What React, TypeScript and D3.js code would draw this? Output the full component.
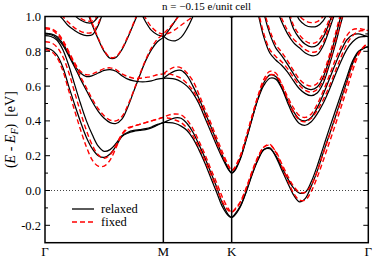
import React from "react";
import * as d3 from "d3";

const W = 374;
const H = 258;
const plot = { left: 45, right: 368.3, top: 16.5, bottom: 242.7 };

// high-symmetry points, path length in units of |ΓM|
const symLabels = ["Γ", "M", "K", "Γ"];
const symK = [0, 1, 1.5774, 2.7321];

const yMajor = [-0.2, 0, 0.2, 0.4, 0.6, 0.8, 1.0];
const yMinor = [-0.1, 0.1, 0.3, 0.5, 0.7, 0.9];

// relaxed structure, [k, E - E_F]
const relaxed1 = [[0,0.82],[0.05,0.81],[0.1,0.78],[0.15,0.71],[0.2,0.6],[0.25,0.495],[0.3,0.395],[0.35,0.305],[0.4,0.24],[0.45,0.2],[0.5,0.19],[0.55,0.21],[0.6,0.255],[0.65,0.31],[0.7,0.33],[0.75,0.34],[0.8,0.345],[0.85,0.35],[0.9,0.36],[0.95,0.375],[1,0.39],
  [1.05,0.39],[1.1,0.385],[1.15,0.37],[1.2,0.345],[1.25,0.3],[1.3,0.235],[1.35,0.16],[1.4,0.075],[1.45,-0.01],[1.5,-0.095],[1.55,-0.145],[1.577,-0.155],
  [1.6,-0.145],[1.65,-0.095],[1.7,-0.01],[1.75,0.09],[1.8,0.175],[1.85,0.235],[1.9,0.245],[1.95,0.195],[2,0.12],[2.05,0.045],[2.1,-0.025],[2.15,-0.065],[2.2,-0.045],[2.25,0.025],[2.3,0.11],[2.35,0.215],[2.4,0.315],[2.45,0.415],[2.5,0.52],[2.55,0.625],[2.6,0.73],[2.65,0.795],[2.7,0.82],[2.732,0.825]];
const relaxed2 = [[0,0.89],[0.05,0.885],[0.1,0.865],[0.15,0.81],[0.2,0.72],[0.25,0.61],[0.3,0.5],[0.35,0.4],[0.4,0.32],[0.45,0.255],[0.5,0.225],[0.55,0.235],[0.6,0.27],[0.65,0.315],[0.7,0.335],[0.75,0.345],[0.8,0.35],[0.85,0.355],[0.9,0.365],[0.95,0.38],[1,0.39],
  [1.05,0.405],[1.1,0.418],[1.15,0.415],[1.2,0.385],[1.25,0.335],[1.3,0.265],[1.35,0.19],[1.4,0.105],[1.45,0.02],[1.5,-0.075],[1.55,-0.14],[1.577,-0.155],
  [1.6,-0.14],[1.65,-0.09],[1.7,-0.005],[1.75,0.095],[1.8,0.18],[1.85,0.235],[1.9,0.24],[1.95,0.2],[2,0.135],[2.05,0.07],[2.1,0.015],[2.15,-0.015],[2.2,-0.01],[2.25,0.05],[2.3,0.14],[2.35,0.245],[2.4,0.35],[2.45,0.45],[2.5,0.55],[2.55,0.65],[2.6,0.745],[2.65,0.8],[2.7,0.82],[2.732,0.825]];
const relaxed3 = [[0,0.905],[0.05,0.9],[0.1,0.885],[0.15,0.845],[0.2,0.785],[0.25,0.72],[0.3,0.675],[0.35,0.655],[0.4,0.66],[0.45,0.675],[0.5,0.69],[0.55,0.695],[0.6,0.685],[0.65,0.66],[0.7,0.64],[0.75,0.63],[0.8,0.625],[0.85,0.625],[0.9,0.63],[0.95,0.64],[1,0.645],
  [1.05,0.645],[1.1,0.64],[1.15,0.625],[1.2,0.6],[1.25,0.56],[1.3,0.5],[1.35,0.42],[1.4,0.34],[1.45,0.26],[1.5,0.185],[1.55,0.12],[1.577,0.1],
  [1.6,0.115],[1.65,0.185],[1.7,0.295],[1.75,0.415],[1.8,0.525],[1.85,0.605],[1.9,0.645],[1.95,0.64],[2,0.59],[2.05,0.52],[2.1,0.455],[2.15,0.41],[2.2,0.4],[2.25,0.42],[2.3,0.475],[2.35,0.55],[2.4,0.635],[2.45,0.72],[2.5,0.8],[2.55,0.865],[2.6,0.895],[2.65,0.9],[2.7,0.89],[2.732,0.885]];
const relaxed4 = [[1,0.645],[1.05,0.67],[1.1,0.688],[1.15,0.69],[1.2,0.66],[1.25,0.6],[1.3,0.53],[1.35,0.45],[1.4,0.37],[1.45,0.285],[1.5,0.2],[1.55,0.125],[1.577,0.1],
  [1.6,0.11],[1.65,0.18],[1.7,0.29],[1.75,0.41],[1.8,0.53],[1.85,0.62],[1.9,0.665],[1.95,0.655],[2,0.59],[2.05,0.505],[2.1,0.43],[2.15,0.385],[2.2,0.375],[2.25,0.395],[2.3,0.44],[2.35,0.5],[2.4,0.575],[2.45,0.66],[2.5,0.74],[2.55,0.81],[2.6,0.855],[2.65,0.88],[2.7,0.885],[2.732,0.885]];
const relaxed5 = [[0,0.9],[0.05,0.895],[0.1,0.875],[0.15,0.835],[0.2,0.775],[0.25,0.71],[0.3,0.64],[0.35,0.575],[0.4,0.51],[0.45,0.455],[0.5,0.415],[0.55,0.39],[0.6,0.385],[0.65,0.41],[0.7,0.48],[0.75,0.57],[0.8,0.66],[0.85,0.745],[0.9,0.81],[0.95,0.855],[1,0.88],[1.05,0.925],[1.1,0.975],[1.15,1.03],[1.2,1.09]];
const relaxed6 = [[0.35,1.04],[0.4,0.95],[0.45,0.87],[0.5,0.8],[0.55,0.76],[0.6,0.765],[0.65,0.81],[0.7,0.88],[0.75,0.96],[0.8,1.04]];
const relaxed7 = [[0.05,1.06],[0.1,1.02],[0.15,0.985],[0.2,0.945],[0.25,0.92],[0.3,0.9],[0.35,0.89],[0.4,0.895],[0.45,0.95],[0.5,1.05]];
const relaxed8 = [[0.2,1.04],[0.25,1.005],[0.3,0.98],[0.35,0.965],[0.4,0.965],[0.45,1.0],[0.5,1.06]];
const relaxed9 = [[0.8,1.04],[0.85,0.97],[0.9,0.92],[0.95,0.895],[1,0.885],[1.05,0.865],[1.1,0.86],[1.15,0.88],[1.2,0.93],[1.25,1.0],[1.3,1.07]];
const relaxed10 = [[1.5,1.06],[1.577,0.995],[1.65,1.06]];
const relaxed11 = [[1.75,1.2],[1.8,1.02],[1.85,0.88],[1.9,0.79],[1.95,0.75],[2,0.72],[2.05,0.68],[2.1,0.63],[2.15,0.585],[2.2,0.557],[2.25,0.545],[2.3,0.56],[2.35,0.615],[2.4,0.715],[2.45,0.83],[2.5,0.96],[2.55,1.08]];
const relaxed12 = [[1.8,1.2],[1.85,1.02],[1.9,0.9],[1.95,0.82],[2,0.775],[2.05,0.725],[2.1,0.67],[2.15,0.62],[2.2,0.59],[2.25,0.58],[2.3,0.595],[2.35,0.65],[2.4,0.75],[2.45,0.87],[2.5,1.0],[2.55,1.1]];
const relaxed13 = [[1.95,1.06],[2,0.97],[2.05,0.9],[2.1,0.85],[2.15,0.82],[2.2,0.79],[2.25,0.775],[2.3,0.78],[2.35,0.83],[2.4,0.92],[2.45,1.02],[2.5,1.12]];
const relaxed14 = [[2.05,1.04],[2.1,0.93],[2.15,0.875],[2.2,0.84],[2.25,0.825],[2.3,0.835],[2.35,0.88],[2.4,0.96],[2.45,1.06]];
const relaxed15 = [[2.1,1.06],[2.15,0.98],[2.2,0.95],[2.25,0.94],[2.3,0.945],[2.35,0.975],[2.4,1.04]];

// fixed structure
const fixed1 = [[0,0.81],[0.05,0.8],[0.1,0.765],[0.15,0.69],[0.2,0.575],[0.25,0.46],[0.3,0.35],[0.35,0.25],[0.4,0.175],[0.45,0.14],[0.5,0.14],[0.55,0.175],[0.6,0.245],[0.65,0.32],[0.7,0.355],[0.75,0.37],[0.8,0.38],[0.85,0.39],[0.9,0.4],[0.95,0.41],[1,0.42],
  [1.05,0.415],[1.1,0.405],[1.15,0.39],[1.2,0.36],[1.25,0.315],[1.3,0.25],[1.35,0.175],[1.4,0.095],[1.45,0.015],[1.5,-0.065],[1.55,-0.115],[1.577,-0.125],
  [1.6,-0.115],[1.65,-0.07],[1.7,0.01],[1.75,0.105],[1.8,0.19],[1.85,0.25],[1.9,0.265],[1.95,0.22],[2,0.14],[2.05,0.06],[2.1,-0.015],[2.15,-0.055],[2.2,-0.055],[2.25,-0.005],[2.3,0.075],[2.35,0.17],[2.4,0.27],[2.45,0.37],[2.5,0.475],[2.55,0.58],[2.6,0.69],[2.65,0.78],[2.7,0.83],[2.732,0.845]];
const fixed2 = [[0,0.855],[0.05,0.85],[0.1,0.825],[0.15,0.77],[0.2,0.68],[0.25,0.565],[0.3,0.45],[0.35,0.345],[0.4,0.26],[0.45,0.205],[0.5,0.185],[0.55,0.205],[0.6,0.26],[0.65,0.325],[0.7,0.36],[0.75,0.37],[0.8,0.38],[0.85,0.39],[0.9,0.4],[0.95,0.41],[1,0.42],
  [1.05,0.435],[1.1,0.44],[1.15,0.435],[1.2,0.405],[1.25,0.355],[1.3,0.285],[1.35,0.21],[1.4,0.125],[1.45,0.045],[1.5,-0.04],[1.55,-0.105],[1.577,-0.125],
  [1.6,-0.11],[1.65,-0.065],[1.7,0.015],[1.75,0.11],[1.8,0.195],[1.85,0.25],[1.9,0.26],[1.95,0.225],[2,0.155],[2.05,0.085],[2.1,0.025],[2.15,-0.01],[2.2,-0.01],[2.25,0.03],[2.3,0.11],[2.35,0.21],[2.4,0.31],[2.45,0.41],[2.5,0.51],[2.55,0.615],[2.6,0.72],[2.65,0.79],[2.7,0.83],[2.732,0.845]];
const fixed3 = [[0,0.935],[0.05,0.93],[0.1,0.91],[0.15,0.865],[0.2,0.8],[0.25,0.735],[0.3,0.685],[0.35,0.665],[0.4,0.67],[0.45,0.685],[0.5,0.7],[0.55,0.705],[0.6,0.695],[0.65,0.67],[0.7,0.655],[0.75,0.645],[0.8,0.645],[0.85,0.65],[0.9,0.655],[0.95,0.665],[1,0.67],
  [1.05,0.67],[1.1,0.66],[1.15,0.645],[1.2,0.615],[1.25,0.575],[1.3,0.515],[1.35,0.435],[1.4,0.355],[1.45,0.275],[1.5,0.2],[1.55,0.14],[1.577,0.115],
  [1.6,0.13],[1.65,0.2],[1.7,0.31],[1.75,0.43],[1.8,0.54],[1.85,0.625],[1.9,0.665],[1.95,0.66],[2,0.61],[2.05,0.54],[2.1,0.475],[2.15,0.43],[2.2,0.42],[2.25,0.44],[2.3,0.495],[2.35,0.57],[2.4,0.655],[2.45,0.745],[2.5,0.825],[2.55,0.89],[2.6,0.925],[2.65,0.93],[2.7,0.925],[2.732,0.92]];
const fixed4 = [[1,0.67],[1.05,0.695],[1.1,0.71],[1.15,0.705],[1.2,0.675],[1.25,0.63],[1.3,0.555],[1.35,0.47],[1.4,0.39],[1.45,0.305],[1.5,0.22],[1.55,0.145],[1.577,0.115],
  [1.6,0.125],[1.65,0.195],[1.7,0.305],[1.75,0.425],[1.8,0.545],[1.85,0.64],[1.9,0.685],[1.95,0.675],[2,0.61],[2.05,0.525],[2.1,0.45],[2.15,0.405],[2.2,0.395],[2.25,0.415],[2.3,0.46],[2.35,0.52],[2.4,0.595],[2.45,0.68],[2.5,0.765],[2.55,0.84],[2.6,0.89],[2.65,0.915],[2.7,0.92],[2.732,0.92]];
const fixed5 = [[0,0.93],[0.05,0.925],[0.1,0.9],[0.15,0.855],[0.2,0.79],[0.25,0.725],[0.3,0.655],[0.35,0.59],[0.4,0.525],[0.45,0.47],[0.5,0.43],[0.55,0.405],[0.6,0.4],[0.65,0.425],[0.7,0.49],[0.75,0.575],[0.8,0.665],[0.85,0.75],[0.9,0.82],[0.95,0.87],[1,0.9],[1.05,0.935],[1.1,0.975],[1.15,1.02],[1.2,1.07]];
const fixed6 = [[0.35,1.05],[0.4,0.96],[0.45,0.875],[0.5,0.805],[0.55,0.765],[0.6,0.77],[0.65,0.815],[0.7,0.885],[0.75,0.965],[0.8,1.05]];
const fixed7 = [[0.05,1.08],[0.1,1.04],[0.15,1.0],[0.2,0.965],[0.25,0.935],[0.3,0.915],[0.35,0.905],[0.4,0.91],[0.45,0.96],[0.5,1.06]];
const fixed8 = [[0.2,1.05],[0.25,1.02],[0.3,0.99],[0.35,0.975],[0.4,0.975],[0.45,1.01],[0.5,1.07]];
const fixed9 = [[0.8,1.05],[0.85,0.99],[0.9,0.94],[0.95,0.91],[1,0.9],[1.05,0.905],[1.1,0.925],[1.15,0.95],[1.2,0.975],[1.25,1.0],[1.3,1.04]];
const fixed10 = [[1.5,1.07],[1.577,1.005],[1.65,1.07]];
const fixed11 = [[1.75,1.22],[1.8,1.04],[1.85,0.9],[1.9,0.81],[1.95,0.77],[2,0.74],[2.05,0.7],[2.1,0.65],[2.15,0.605],[2.2,0.575],[2.25,0.565],[2.3,0.58],[2.35,0.635],[2.4,0.73],[2.45,0.845],[2.5,0.97],[2.55,1.09]];
const fixed12 = [[1.8,1.22],[1.85,1.04],[1.9,0.92],[1.95,0.84],[2,0.795],[2.05,0.745],[2.1,0.69],[2.15,0.64],[2.2,0.61],[2.25,0.6],[2.3,0.615],[2.35,0.67],[2.4,0.77],[2.45,0.89],[2.5,1.02],[2.55,1.12]];
const fixed13 = [[1.95,1.08],[2,0.99],[2.05,0.92],[2.1,0.87],[2.15,0.84],[2.2,0.81],[2.25,0.795],[2.3,0.8],[2.35,0.85],[2.4,0.94],[2.45,1.04],[2.5,1.14]];
const fixed14 = [[2.05,1.06],[2.1,0.95],[2.15,0.895],[2.2,0.86],[2.25,0.845],[2.3,0.855],[2.35,0.9],[2.4,0.98],[2.45,1.08]];
const fixed15 = [[2.1,1.08],[2.15,1.005],[2.2,0.975],[2.25,0.965],[2.3,0.97],[2.35,1.0],[2.4,1.06]];

const relaxedBands = [relaxed1, relaxed2, relaxed3, relaxed4, relaxed5, relaxed6, relaxed7, relaxed8, relaxed9, relaxed10, relaxed11, relaxed12, relaxed13, relaxed14, relaxed15];
const fixedBands = [fixed1, fixed2, fixed3, fixed4, fixed5, fixed6, fixed7, fixed8, fixed9, fixed10, fixed11, fixed12, fixed13, fixed14, fixed15];

const serif = "'Liberation Serif', 'Times New Roman', 'DejaVu Serif', serif";

export default function App() {
  const x = d3.scaleLinear().domain([0, symK[3]]).range([plot.left, plot.right]);
  const y = d3.scaleLinear().domain([-0.3, 1.0]).range([plot.bottom, plot.top]);

  const line = d3
    .line<number[]>()
    .x((d) => x(d[0]))
    .y((d) => y(d[1]))
    .curve(d3.curveCatmullRom.alpha(0.5));

  const fmt = (v: number) => (v < 0 ? "-" : "") + Math.abs(v).toFixed(1);

  return (
    <svg width={W} height={H} style={{ position: "absolute", left: 0, top: 0, background: "#fff" }} fontFamily={serif}>
      <defs>
        <clipPath id="plotClip">
          <rect x={plot.left} y={plot.top} width={plot.right - plot.left} height={plot.bottom - plot.top} />
        </clipPath>
      </defs>

      <text x={(plot.left + plot.right) / 2} y={9.5} textAnchor="middle" fontSize={11}>
        n = −0.15 e/unit cell
      </text>

      {/* zero line */}
      <line x1={plot.left} x2={plot.right} y1={y(0)} y2={y(0)} stroke="#444" strokeWidth={1} strokeDasharray="1,2" />

      <g clipPath="url(#plotClip)" fill="none">
        {relaxedBands.map((b, i) => (
          <path key={"r" + i} d={line(b) ?? ""} stroke="#000" strokeWidth={1.25} />
        ))}
        {fixedBands.map((b, i) => (
          <path key={"f" + i} d={line(b) ?? ""} stroke="#ff0000" strokeWidth={1.4} strokeDasharray="5,3" />
        ))}
      </g>

      {/* high-symmetry lines */}
      {symK.slice(1, 3).map((k, i) => (
        <line key={i} x1={x(k)} x2={x(k)} y1={plot.top} y2={plot.bottom} stroke="#000" strokeWidth={1.5} />
      ))}

      {/* y ticks, both sides */}
      {yMajor.map((v) => (
        <g key={"M" + v}>
          <line x1={plot.left} x2={plot.left + 5} y1={y(v)} y2={y(v)} stroke="#000" strokeWidth={1} />
          <line x1={plot.right} x2={plot.right - 5} y1={y(v)} y2={y(v)} stroke="#000" strokeWidth={1} />
          <text x={plot.left - 4} y={y(v) + 4.5} textAnchor="end" fontSize={12.5}>
            {fmt(v)}
          </text>
        </g>
      ))}
      {yMinor.map((v) => (
        <g key={"m" + v}>
          <line x1={plot.left} x2={plot.left + 3} y1={y(v)} y2={y(v)} stroke="#000" strokeWidth={1} />
          <line x1={plot.right} x2={plot.right - 3} y1={y(v)} y2={y(v)} stroke="#000" strokeWidth={1} />
        </g>
      ))}

      <rect x={plot.left} y={plot.top} width={plot.right - plot.left} height={plot.bottom - plot.top} fill="none" stroke="#000" strokeWidth={1.5} />

      {symLabels.map((s, i) => (
        <text key={i} x={x(symK[i])} y={256} textAnchor="middle" fontSize={13}>
          {s}
        </text>
      ))}

      <text transform={`translate(15,${(plot.top + plot.bottom) / 2}) rotate(-90)`} textAnchor="middle" fontSize={14}>
        (<tspan fontStyle="italic">E</tspan> - <tspan fontStyle="italic">E</tspan>
        <tspan fontStyle="italic" fontSize={10} dy={3}>F</tspan>
        <tspan dy={-3}>)</tspan>{"\u00a0\u00a0[eV]"}
      </text>

      {/* legend */}
      <line x1={72} x2={94} y1={209} y2={209} stroke="#000" strokeWidth={1.3} />
      <text x={101} y={213} fontSize={12.5}>relaxed</text>
      <line x1={72} x2={94} y1={222} y2={222} stroke="#ff0000" strokeWidth={1.4} strokeDasharray="5,3" />
      <text x={101} y={226} fontSize={12.5}>fixed</text>
    </svg>
  );
}
